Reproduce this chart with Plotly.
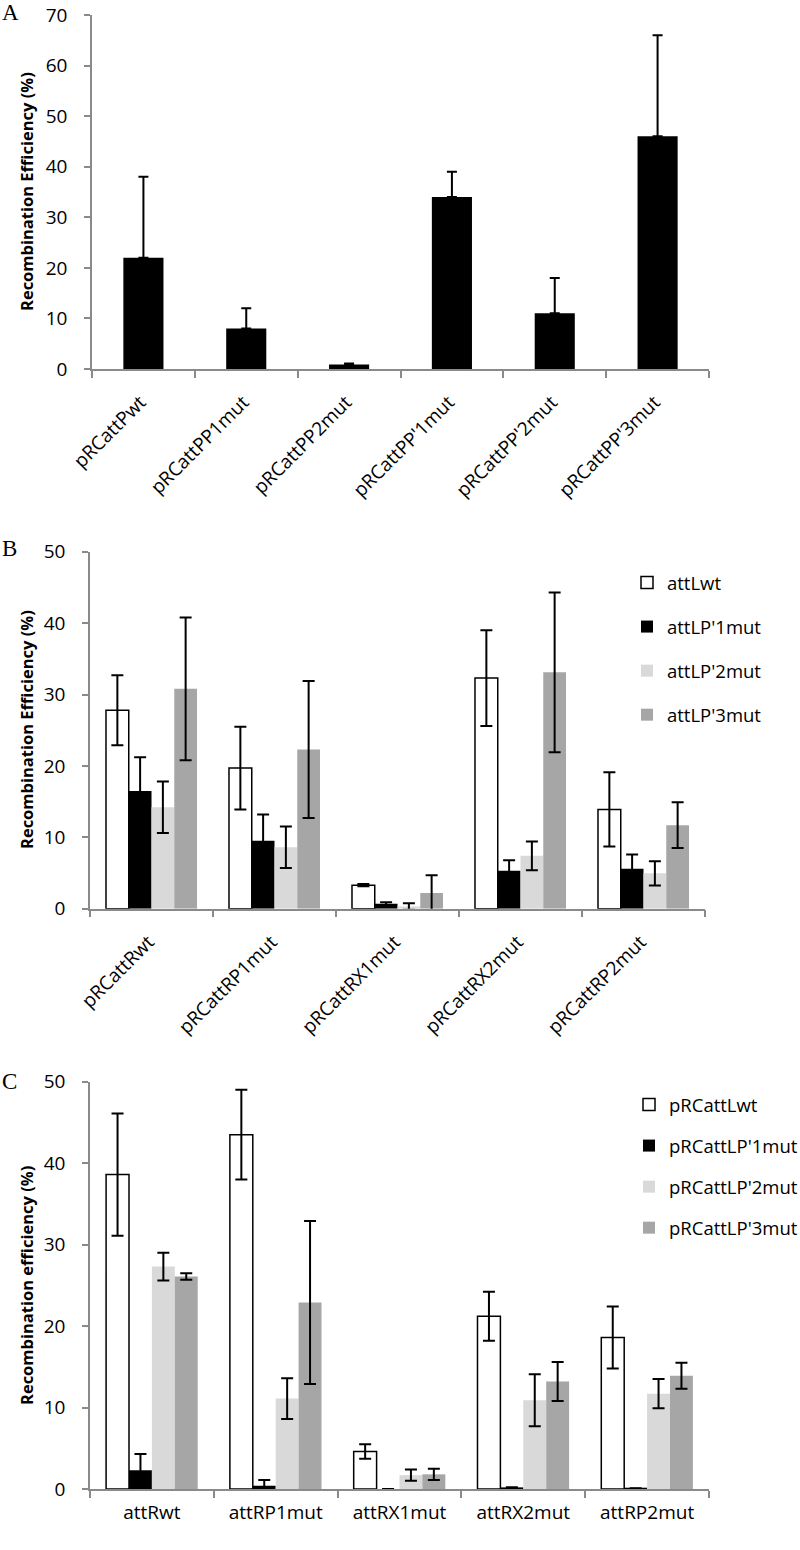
import plotly.graph_objects as go

# ---------------- Data ----------------
A_categories = ["pRCattPwt", "pRCattPP1mut", "pRCattPP2mut", "pRCattPP'1mut", "pRCattPP'2mut", "pRCattPP'3mut"]
A_values = [22, 8, 0.9, 34, 11, 46]
A_errors = [16, 4, 0.2, 5, 7, 20]

B_categories = ["pRCattRwt", "pRCattRP1mut", "pRCattRX1mut", "pRCattRX2mut", "pRCattRP2mut"]
B_series = ["attLwt", "attLP'1mut", "attLP'2mut", "attLP'3mut"]
B_attLwt = [27.8, 19.7, 3.3, 32.3, 13.9]
B_attLwt_err = [4.9, 5.8, 0.15, 6.7, 5.2]
B_attLP1 = [16.5, 9.5, 0.7, 5.3, 5.6]
B_attLP1_err = [4.7, 3.7, 0.2, 1.5, 2.0]
B_attLP2 = [14.2, 8.6, 0.3, 7.4, 4.95]
B_attLP2_err = [3.6, 2.9, 0.45, 2.0, 1.7]
B_attLP3 = [30.8, 22.3, 2.2, 33.1, 11.7]
B_attLP3_err = [10.0, 9.6, 2.5, 11.2, 3.2]

C_categories = ["attRwt", "attRP1mut", "attRX1mut", "attRX2mut", "attRP2mut"]
C_series = ["pRCattLwt", "pRCattLP'1mut", "pRCattLP'2mut", "pRCattLP'3mut"]
C_wt = [38.6, 43.5, 4.6, 21.2, 18.6]
C_wt_err = [7.5, 5.5, 0.9, 3.0, 3.8]
C_P1 = [2.3, 0.4, 0.0, 0.2, 0.1]
C_P1_err = [2.0, 0.7, 0.0, 0.0, 0.0]
C_P2 = [27.3, 11.1, 1.7, 10.9, 11.7]
C_P2_err = [1.7, 2.5, 0.7, 3.2, 1.8]
C_P3 = [26.1, 22.9, 1.8, 13.2, 13.9]
C_P3_err = [0.4, 10.0, 0.7, 2.4, 1.6]

Y_TITLE_A = "Recombination Efficiency (%)"
Y_TITLE_B = "Recombination Efficiency (%)"
Y_TITLE_C = "Recombination efficiency (%)"

# ---------------- Styling ----------------
W, H = 800, 1550
FONT = "Open Sans"
AXIS_GREY = "#8a8a8a"
fills = ["white", "black", "#d9d9d9", "#a6a6a6"]
outlines = [dict(color="black", width=1.5), dict(width=0), dict(width=0), dict(width=0)]


def px_x(p):
    return p / W


def px_y(p):
    return 1 - p / H


fig = go.Figure()

# Panel A
fig.add_trace(go.Bar(
    x=A_categories, y=A_values, width=0.39,
    marker=dict(color="black", line=dict(width=0)),
    error_y=dict(type="data", symmetric=False, array=A_errors,
                 arrayminus=[0] * len(A_errors), color="black", thickness=2, width=5),
    showlegend=False, xaxis="x", yaxis="y",
))

# Panel B
B_vals = [B_attLwt, B_attLP1, B_attLP2, B_attLP3]
B_errs = [B_attLwt_err, B_attLP1_err, B_attLP2_err, B_attLP3_err]
for i, name in enumerate(B_series):
    fig.add_trace(go.Bar(
        x=B_categories, y=B_vals[i], name=name,
        marker=dict(color=fills[i], line=outlines[i]),
        error_y=dict(type="data", array=B_errs[i], color="black", thickness=2, width=6),
        legend="legend", legendgroup="b%d" % i,
        xaxis="x2", yaxis="y2",
    ))

# Panel C
C_vals = [C_wt, C_P1, C_P2, C_P3]
C_errs = [C_wt_err, C_P1_err, C_P2_err, C_P3_err]
for i, name in enumerate(C_series):
    fig.add_trace(go.Bar(
        x=C_categories, y=C_vals[i], name=name,
        marker=dict(color=fills[i], line=outlines[i]),
        error_y=dict(type="data", array=C_errs[i], color="black", thickness=2, width=6),
        legend="legend2", legendgroup="c%d" % i,
        xaxis="x3", yaxis="y3",
    ))

tickfont = dict(family=FONT, size=19, color="black")
titlefont = dict(family=FONT, size=16.5, color="black", weight="bold")

common_x = dict(type="category", showline=True, linecolor=AXIS_GREY, linewidth=1.5,
                ticks="outside", tickson="boundaries", ticklen=7, tickcolor=AXIS_GREY,
                tickwidth=1.5, tickfont=tickfont, showgrid=False, zeroline=False,
                automargin=False)
common_y = dict(showline=True, linecolor=AXIS_GREY, linewidth=1.5, ticks="outside",
                ticklen=6, tickcolor=AXIS_GREY, tickwidth=1.5, tickfont=tickfont,
                showgrid=False, zeroline=False, automargin=False, ticklabelstandoff=13)


def ytitle(text, yc):
    return dict(text=text, x=px_x(26), y=px_y(yc), xref="paper", yref="paper",
                xanchor="center", yanchor="middle", textangle=-90, showarrow=False,
                font=titlefont)


def letter(text, ytop):
    return dict(text=text, x=0, y=px_y(ytop), xref="paper", yref="paper", xanchor="left",
                yanchor="top", showarrow=False,
                font=dict(family="Liberation Serif", size=23, color="black"))


fig.update_layout(
    width=W, height=H,
    margin=dict(l=0, r=0, t=0, b=0, autoexpand=False),
    paper_bgcolor="white", plot_bgcolor="white",
    barmode="group", bargap=0.26, bargroupgap=0,
    font=dict(family=FONT, color="black"),
    xaxis=dict(common_x, domain=[px_x(92), px_x(709)], anchor="y", tickangle=-45,
               ticklabelstandoff=13, ticklabelshift=-3),
    yaxis=dict(common_y, domain=[px_y(369), px_y(15)], anchor="x", range=[0, 70], dtick=10),
    xaxis2=dict(common_x, domain=[px_x(90), px_x(705)], anchor="y2", tickangle=-45,
                ticklabelstandoff=13, ticklabelshift=-3),
    yaxis2=dict(common_y, domain=[px_y(908.7), px_y(551.7)], anchor="x2", range=[0, 50], dtick=10),
    xaxis3=dict(common_x, domain=[px_x(90), px_x(709)], anchor="y3", tickangle=0,
                ticklabelstandoff=5),
    yaxis3=dict(common_y, domain=[px_y(1489), px_y(1081.7)], anchor="x3", range=[0, 50], dtick=10),
    legend=dict(x=px_x(627), y=px_y(564), xanchor="left", yanchor="top",
                font=dict(family=FONT, size=18.5, color="black"), tracegroupgap=17,
                bgcolor="rgba(0,0,0,0)", traceorder="grouped"),
    legend2=dict(x=px_x(629), y=px_y(1086), xanchor="left", yanchor="top",
                 font=dict(family=FONT, size=18.5, color="black"), tracegroupgap=14,
                 bgcolor="rgba(0,0,0,0)", traceorder="grouped"),
    annotations=[
        letter("A", -2), letter("B", 534), letter("C", 1067),
        ytitle(Y_TITLE_A, 192), ytitle(Y_TITLE_B, 730), ytitle(Y_TITLE_C, 1286),
    ],
)

fig.write_html("out.html", config={"displayModeBar": False},
               post_script="document.body.style.margin='0px';")
